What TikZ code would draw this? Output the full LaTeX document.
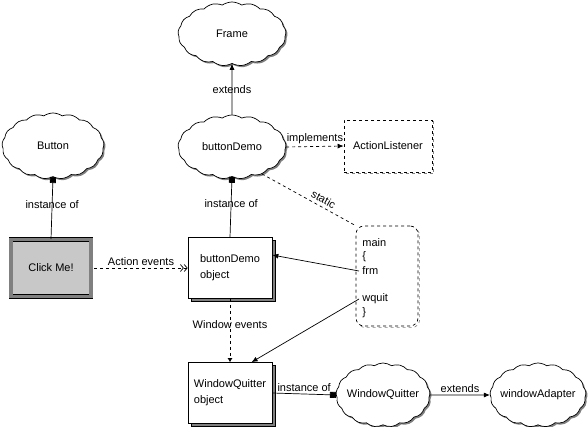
\documentclass[tikz,border=0pt]{standalone}
\usepackage{fontspec}
\setmainfont{Liberation Sans}
\usetikzlibrary{arrows.meta,shapes.symbols,shadows}
\definecolor{shadowgray}{RGB}{128,128,128}
\definecolor{buttongray}{RGB}{200,200,200}

\begin{document}
\begin{tikzpicture}[x=1pt,y=-1pt,font=\fontsize{11}{16}\selectfont,line width=0.7pt,
  >={Latex[length=6pt,width=5pt]},
  classcloud/.style={cloud,cloud puffs=17,cloud puff arc=70,cloud ignores aspect,
    draw,fill=white,inner sep=0pt,
    drop shadow={shadow xshift=1.6pt,shadow yshift=-1.6pt,fill=shadowgray,opacity=1}},
  objbox/.style={rectangle,draw,fill=white,align=left,
    minimum width=84pt,minimum height=61pt,
    drop shadow={shadow xshift=3pt,shadow yshift=-3pt,fill=shadowgray,draw=black,opacity=1}},
  dashbox/.style={rectangle,draw,dashed,fill=white,
    copy shadow={shadow xshift=1.6pt,shadow yshift=-1.6pt,draw=shadowgray,fill=white,dashed}},
  codeline/.style={anchor=west,inner sep=3pt},
  instof/.style={{Square[length=6pt,width=6pt]}-},
  conn/.style={midway,inner sep=2pt}]
\useasboundingbox (0,0) rectangle (588,427);

% classes
\node[classcloud,minimum width=108pt,minimum height=64pt,label=center:Frame] (frame) at (232,34) {};
\node[classcloud,minimum width=108pt,minimum height=64pt,label=center:buttonDemo] (bdcloud) at (232,147) {};
\node[classcloud,minimum width=102pt,minimum height=66pt,label=center:Button] (button) at (53,146) {};
\node[classcloud,minimum width=94pt,minimum height=64pt,label=center:WindowQuitter] (wqcloud) at (383,395) {};
\node[classcloud,minimum width=96pt,minimum height=64pt,label=center:windowAdapter] (wacloud) at (538,395) {};
\node[dashbox,minimum width=88pt,minimum height=52pt] (actlist) at (388,146) {ActionListener};

% objects
\node[rectangle,draw,double=shadowgray,double distance=3.5pt,fill=buttongray,
  minimum width=80pt,minimum height=57pt,
  drop shadow={shadow xshift=2pt,shadow yshift=-2pt,fill=black,opacity=1}] (clickme) at (51,268) {Click Me!};
\node[objbox] (bdobj) at (230,268) {buttonDemo\\object};
\node[objbox] (wqobj) at (230,393) {WindowQuitter\\object};

% main
\node[dashbox,rounded corners=8pt,minimum width=62pt,minimum height=100pt] (mainbox) at (387,276) {};
\node[codeline] (maintxt) at (359,243) {main};
\node[codeline] (brace1) at (359,257) {\{};
\node[codeline] (frmtxt) at (359,271) {frm};
\node[codeline] (wquittxt) at (359,299) {wquit};
\node[codeline] (brace2) at (359,313) {\}};

% relations
\draw[->] (bdcloud.north) -- (frame.south) node[conn] {extends};
\draw[->,dashed] (bdcloud.east) -- (actlist.west) node[conn,above] {implements};
\draw[dashed] (bdcloud.-42) -- (mainbox.north west) node[conn,pos=0.62,sloped,above=1pt] {static};
\draw[instof] (button.south) -- (clickme.north) node[conn,pos=0.45] {instance of};
\draw[instof] (bdcloud.south) -- (bdobj.north) node[conn,pos=0.45] {instance of};
\draw[dashed,-{Straight Barb[length=3pt,width=7pt]Straight Barb[length=3pt,width=7pt]}]
  (clickme.east) ++(3,0) -- (bdobj.west) node[conn,above] {Action events};
\draw[->] (frmtxt.west) -- (bdobj.17);
\draw[->] (wquittxt.west) -- (wqobj.55);
\draw[dashed,-{Latex[length=4pt,width=5pt]}] (bdobj.south) -- (wqobj.north) node[conn,pos=0.4] {Window events};
\draw[-{Square[length=6pt,width=6pt]}] (wqobj.east) -- (wqcloud.west) node[conn,above] {instance of};
\draw[->] (wqcloud.east) -- (wacloud.west) node[conn,above] {extends};
\end{tikzpicture}
\end{document}
